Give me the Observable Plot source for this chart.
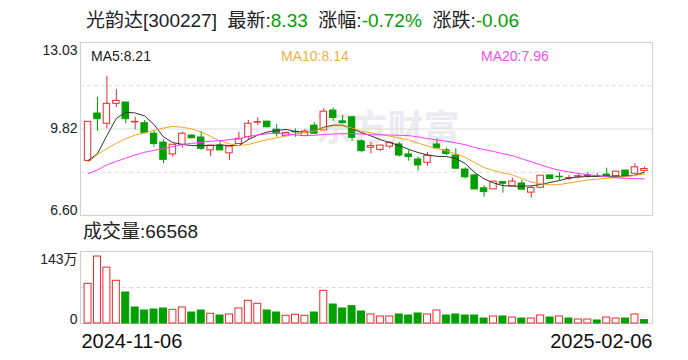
<!DOCTYPE html>
<html><head><meta charset="utf-8">
<script src="https://cdn.jsdelivr.net/npm/d3@7"></script>
<script src="https://cdn.jsdelivr.net/npm/@observablehq/plot@0.6"></script>
<style>
body{margin:0;background:#fff;}
#wrap{position:relative;width:688px;height:360px;overflow:hidden;font-family:"Liberation Sans","Noto Sans CJK SC",sans-serif;color:#222;background:#fff;}
.abs{position:absolute;white-space:nowrap;}
#wrap svg{position:absolute;left:0;}
</style></head><body><div id="wrap"></div>
<script>
// ---------- data ----------
const stockName = "光韵达", stockCode = "300227";
const latestPrice = "8.33", changePct = "-0.72%", changeAmt = "-0.06";
const latestVolume = 66568;
const open  = [8.63,10.39,10.01,10.75,10.80,10.06,10.03,9.64,9.31,8.87, 9.23,9.57,9.50,9.02,9.20,8.91,9.26,9.51,10.05,10.09, 9.79,9.55,9.71,9.55,9.94,9.76,10.50,10.10,10.25,9.36, 9.12,9.04,9.16,9.24,8.87,8.68,8.56,9.24,9.02,8.83, 8.31,8.09,7.61,7.57,7.84,7.69,7.79,7.45,7.63,8.09, 8.04,7.97,8.04,8.09,8.06,8.12,8.06,8.27,8.15,8.26];
const high  = [10.08,11.00,11.78,11.28,10.80,10.25,10.13,9.76,9.41,9.23, 9.70,9.60,9.72,9.20,9.36,9.16,9.70,10.13,10.23,10.09, 9.98,9.70,9.82,9.79,10.05,10.57,10.59,10.32,10.29,9.41, 9.32,9.21,9.35,9.32,9.02,8.77,8.95,9.45,9.10,9.08, 8.37,8.12,7.71,7.86,7.86,7.99,7.90,7.68,8.08,8.09, 8.19,8.09,8.15,8.21,8.17,8.36,8.23,8.27,8.52,8.40];
const low   = [8.63,9.73,9.82,10.61,10.01,9.79,9.66,9.14,8.52,8.77, 9.10,9.45,9.02,8.79,9.02,8.64,9.26,9.39,9.95,9.85, 9.51,9.53,9.51,9.55,9.62,9.76,10.10,10.00,9.35,8.95, 8.89,8.98,9.08,8.77,8.62,8.25,8.43,9.10,8.83,8.34, 7.96,7.55,7.28,7.57,7.43,7.69,7.55,7.25,7.63,7.96, 7.90,7.90,7.96,7.99,8.00,8.06,8.06,8.06,8.15,8.22];
const close = [10.08,10.18,10.75,10.86,10.18,10.08,9.66,9.26,8.67,9.23, 9.64,9.47,9.08,9.20,9.02,9.16,9.45,10.01,10.07,9.88, 9.64,9.67,9.69,9.72,9.64,10.46,10.23,10.03,9.49,8.99, 9.18,9.20,9.29,8.83,8.77,8.46,8.82,9.10,8.89,8.34, 8.02,7.57,7.47,7.86,7.78,7.86,7.56,7.62,8.08,7.96, 8.02,7.99,8.06,8.07,8.04,8.06,8.23,8.06,8.39,8.33];
const volume = [78.8,133,111,84.8,61.6,31.8,25.8,27.8,29.8,27.2, 31.8,21.8,25.8,19.3,15.9,17.9,29.8,45.1,39.1,25.8, 21.8,15.3,17.3,15.3,21.8,64.9,37.7,29.8,34.4,23.8, 17.9,13.9,13.9,17.9,15.9,19.9,17.9,25.8,15.9,17.9, 15.9,15.9,9.9,13.9,13.9,11.9,9.9,9.9,15.9,11.9, 13.9,9.9,7.9,7.9,6.0,11.9,9.9,9.9,17.9,6.6568]; // 万
const ma5  = [8.64,8.90,9.57,10.21,10.44,10.41,10.30,9.98,9.52,9.31, 9.24,9.20,9.20,9.20,9.22,9.20,9.20,9.42,9.59,9.70, 9.76,9.80,9.72,9.69,9.74,9.88,9.96,9.96,9.83,9.68, 9.56,9.42,9.31,9.20,9.06,8.94,8.85,8.80,8.79,8.72, 8.53,8.20,7.96,7.81,7.71,7.69,7.69,7.70,7.75,7.83, 7.90,7.99,8.03,8.05,8.06,8.06,8.06,8.06,8.10,8.21];
const ma10 = [8.58,8.87,9.09,9.28,9.46,9.59,9.67,9.76,9.85,9.91, 9.88,9.82,9.70,9.54,9.37,9.26,9.20,9.24,9.33,9.42, 9.48,9.56,9.63,9.69,9.74,9.85,9.93,9.93,9.85,9.73, 9.67,9.61,9.55,9.48,9.41,9.29,9.18,9.08,9.00,8.90, 8.76,8.57,8.38,8.27,8.18,8.11,7.97,7.84,7.78,7.74, 7.75,7.81,7.86,7.92,7.95,7.98,8.01,8.04,8.09,8.14];
const ma20 = [8.15,8.29,8.48,8.61,8.73,8.85,8.95,9.02,9.09,9.16, 9.24,9.28,9.32,9.36,9.38,9.42,9.44,9.54,9.59,9.64, 9.67,9.63,9.59,9.57,9.58,9.61,9.63,9.64,9.64,9.63, 9.60,9.60,9.59,9.58,9.57,9.52,9.46,9.41,9.36,9.30, 9.23,9.13,9.05,8.98,8.90,8.82,8.71,8.60,8.48,8.37, 8.28,8.22,8.16,8.12,8.08,8.04,8.00,7.98,7.97,7.96];
const priceTicks = [13.03, 9.82, 6.60];
const volumeTicks = [143, 0];
const volumeTickLabels = ["143万", "0"];
const dateTicks = ["2024-11-06", "2025-02-06"];
const maNames = ["MA5", "MA10", "MA20"];
const watermark = "东方财富";

// ---------- styles ----------
const RED = "#ee2a2a", GREEN = "#00a000";
const MA_COLORS = ["#333333", "#f5a623", "#ff3cff"];
const MA_LABEL_COLORS = ["#222222", "#f5b041", "#f050f0"];
const FONT = '"Liberation Sans","Noto Sans CJK SC",sans-serif';
const GRID = "#dcdcdc", FRAME = "#cfcfd6";

const candles = open.map((o, i) => ({i, o, h: high[i], l: low[i], c: close[i], up: close[i] >= o}));
const vols = volume.map((v, i) => ({i, v, up: i === 0 ? close[0] >= open[0] : close[i] >= close[i - 1]}));
const maSeries = [ma5, ma10, ma20];
const maData = maSeries.flatMap((arr, k) => arr.map((v, i) => ({i, v, k})));

const xDomain = [-0.8, 59.86];
const yDomain = [priceTicks[2], priceTicks[0]];
const span = yDomain[1] - yDomain[0];
const quarterLines = [yDomain[0] + span * 0.25, yDomain[0] + span * 0.75];
const midLine = [yDomain[0] + span * 0.5];
const HW = 0.34;

const wrap = document.getElementById("wrap");

const price = Plot.plot({
  width: 688, height: 216,
  marginTop: 42, marginBottom: 1, marginLeft: 80, marginRight: 36,
  x: {domain: xDomain, axis: null},
  y: {domain: yDomain, axis: null},
  style: {fontFamily: FONT, fontSize: "14px", color: "#222", overflow: "visible"},
  marks: [
    Plot.text([watermark], {frameAnchor: "middle", dx: 21, dy: 0, fontSize: 36, fontWeight: "bold", fill: "#ebebf0"}),
    Plot.ruleY(quarterLines, {stroke: GRID, strokeDasharray: "4,3"}),
    Plot.ruleY(midLine, {stroke: GRID}),
    Plot.frame({stroke: FRAME}),
    Plot.ruleX(candles, {x: "i", y1: "l", y2: "h", stroke: d => d.up ? RED : GREEN}),
    Plot.rect(candles, {x1: d => d.i - HW, x2: d => d.i + HW, y1: "o", y2: "c",
      fill: d => d.up ? "white" : GREEN, stroke: d => d.up ? RED : GREEN}),
    Plot.line(maData, {x: "i", y: "v", z: "k", stroke: d => MA_COLORS[d.k], strokeWidth: 1}),
    Plot.text([priceTicks[0]], {y: d => d, frameAnchor: "left", textAnchor: "end", lineAnchor: "top", dx: -3, dy: 3, text: d => d.toFixed(2), fontSize: 14, fill: "#222"}),
    Plot.text([priceTicks[1]], {y: d => d, frameAnchor: "left", textAnchor: "end", lineAnchor: "middle", dx: -3, text: d => d.toFixed(2), fontSize: 14, fill: "#222"}),
    Plot.text([priceTicks[2]], {y: d => d, frameAnchor: "left", textAnchor: "end", lineAnchor: "bottom", dx: -3, dy: -1, text: d => d.toFixed(2), fontSize: 14, fill: "#222"})
  ]
});
price.style.top = "0px";
wrap.appendChild(price);

const vol = Plot.plot({
  width: 688, height: 144,
  marginTop: 35, marginBottom: 37, marginLeft: 80, marginRight: 36,
  x: {domain: xDomain, axis: null},
  y: {domain: [0, volumeTicks[0]], axis: null},
  style: {fontFamily: FONT, fontSize: "14px", color: "#222", overflow: "visible"},
  marks: [
    Plot.ruleY([volumeTicks[0] / 2], {stroke: GRID, strokeDasharray: "4,3"}),
    Plot.frame({stroke: FRAME}),
    Plot.rect(vols, {x1: d => d.i - 0.37, x2: d => d.i + 0.37, y1: 0, y2: "v",
      fill: d => d.up ? "white" : GREEN, stroke: d => d.up ? RED : GREEN}),
    Plot.text([0], {y: () => volumeTicks[0], frameAnchor: "left", textAnchor: "end", lineAnchor: "top", dx: -3, dy: 3, text: () => volumeTickLabels[0], fontSize: 14, fill: "#222"}),
    Plot.text([0], {y: () => volumeTicks[1], frameAnchor: "left", textAnchor: "end", lineAnchor: "bottom", dx: -3, dy: 0, text: () => volumeTickLabels[1], fontSize: 14, fill: "#222"}),
    Plot.text([dateTicks[0]], {frameAnchor: "bottom-left", textAnchor: "start", lineAnchor: "middle", dx: 1, dy: 18, fontSize: 20, fill: "#111"}),
    Plot.text([dateTicks[1]], {frameAnchor: "bottom-right", textAnchor: "end", lineAnchor: "middle", dx: 0, dy: 18, fontSize: 20, fill: "#111"})
  ]
});
vol.style.top = "216px";
wrap.appendChild(vol);

// header
const hdr = document.createElement("div");
hdr.className = "abs";
hdr.style.cssText = "left:86px;top:10px;font-size:19px;line-height:21px;color:#222;";
const g = s => `<span style="color:${GREEN}">${s}</span>`;
hdr.innerHTML = `${stockName}[${stockCode}]&nbsp;&nbsp;最新:${g(latestPrice)}&nbsp;&nbsp;涨幅:${g(changePct)}&nbsp;&nbsp;涨跌:${g(changeAmt)}`;
wrap.appendChild(hdr);

// MA legend
const maLefts = [91, 281, 481];
maNames.forEach((n, k) => {
  const el = document.createElement("div");
  el.className = "abs";
  el.style.cssText = `left:${maLefts[k]}px;top:48px;font-size:14px;line-height:17px;color:${MA_LABEL_COLORS[k]};`;
  el.textContent = `${n}:${maSeries[k][maSeries[k].length - 1].toFixed(2)}`;
  wrap.appendChild(el);
});

// volume label
const vl = document.createElement("div");
vl.className = "abs";
vl.style.cssText = "left:83px;top:221px;font-size:19px;line-height:21px;color:#222;";
vl.textContent = `成交量:${latestVolume}`;
wrap.appendChild(vl);
</script></body></html>
